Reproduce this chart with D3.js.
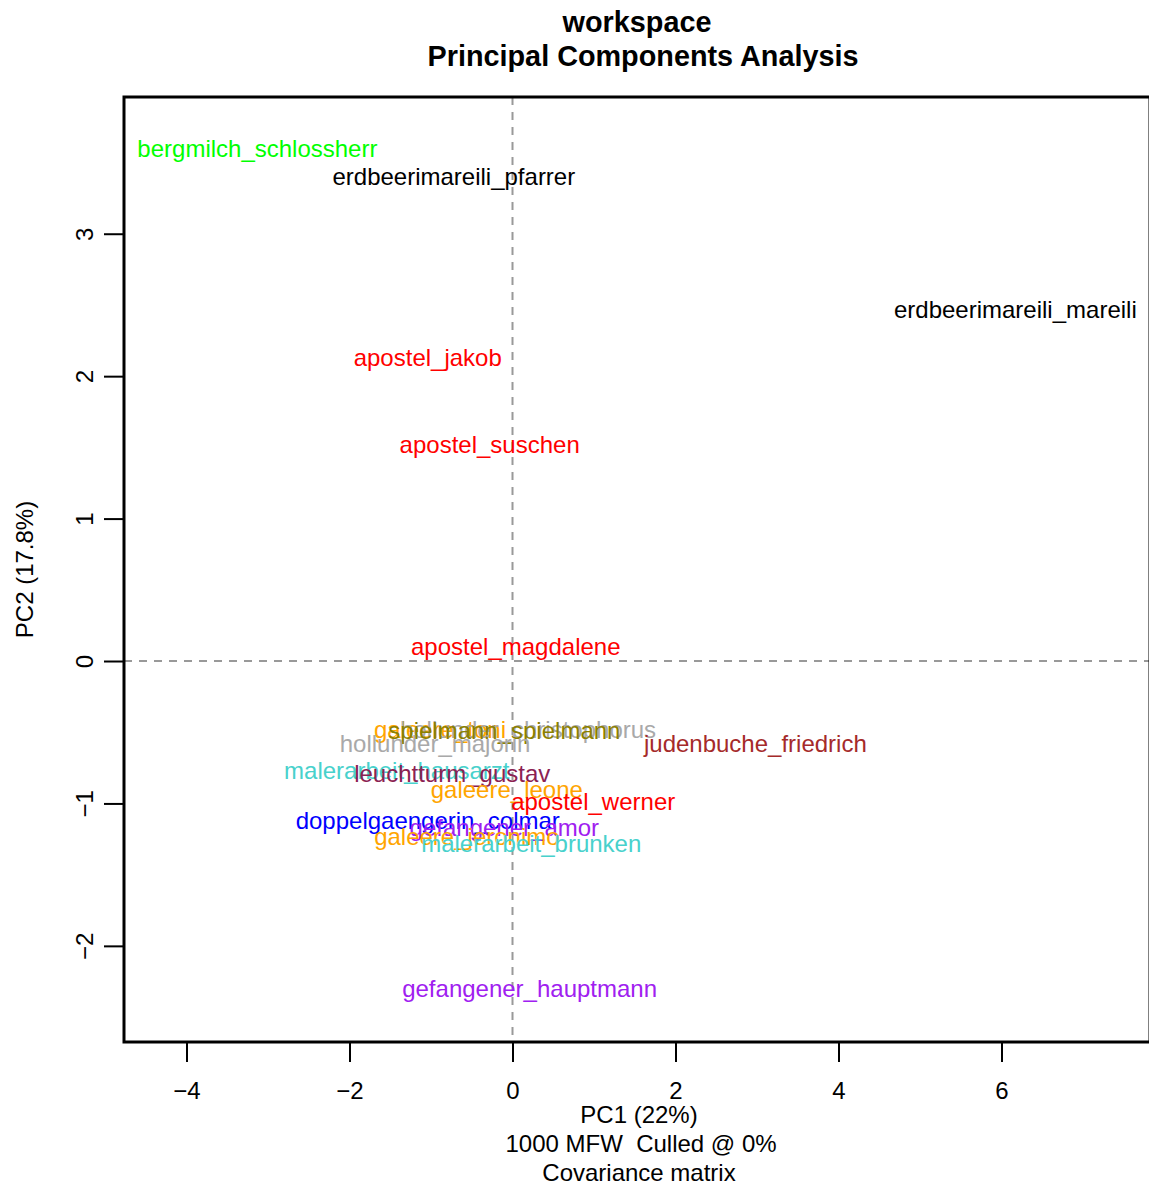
<!DOCTYPE html>
<html>
<head>
<meta charset="utf-8">
<script src="https://cdn.jsdelivr.net/npm/d3@7"></script>
<style>
  body { margin: 0; background: #fff; }
  text { font-family: "Liberation Sans", Arial, sans-serif; }
</style>
</head>
<body>
<div id="chart"></div>
<script>
// Sample labels and their scores on the first two components
const labels = [
    "bergmilch_schlossherr", "erdbeerimareili_pfarrer", "erdbeerimareili_mareili",
    "apostel_jakob", "apostel_suschen", "apostel_magdalene",
    "galeere_toni", "hollunder_christophorus", "spielmann_spielmann",
    "hollunder_majorin", "judenbuche_friedrich", "malerarbeit_hausarzt",
    "leuchtturm_gustav", "galeere_leone", "apostel_werner",
    "doppelgaengerin_colmar", "gefangener_amor", "galeere_jeronimo",
    "malerarbeit_brunken", "gefangener_hauptmann"
];
const pc1 = [-3.13, -0.72, 6.17, -1.04, -0.28, 0.04, -0.89, 0.19, -0.10, -0.95,
             2.98, -1.42, -0.74, -0.07, 0.99, -1.04, -0.10, -0.56, 0.23, 0.21];
const pc2 = [3.60, 3.40, 2.47, 2.13, 1.52, 0.10, -0.48, -0.48, -0.49, -0.58,
             -0.58, -0.77, -0.79, -0.90, -0.99, -1.12, -1.17, -1.23, -1.28, -2.30];

const xTicks = [-4, -2, 0, 2, 4, 6];
const yTicks = [-2, -1, 0, 1, 2, 3];

// one colour per text (the part before the underscore)
const groupColors = {
    bergmilch: "#00ff00", erdbeerimareili: "#000000", apostel: "#ff0000",
    galeere: "#ffa500", hollunder: "#a9a9a9", spielmann: "#8b8000",
    judenbuche: "#a52a2a", malerarbeit: "#48d1cc", leuchtturm: "#8b2252",
    doppelgaengerin: "#0000ff", gefangener: "#a020f0"
};

const points = labels.map((name, i) => ({ name, x: pc1[i], y: pc2[i], group: name.split("_")[0] }));

// Plot box
const W = 1149, H = 1185;
const box = { left: 124, right: 1150, top: 97, bottom: 1042 };
const fs = 24;

const svg = d3.select("#chart")
    .append("svg")
    .attr("width", W)
    .attr("height", H);

const x = d3.scaleLinear()
    .domain([-4.767, 7.822])
    .range([box.left, box.right]);

const y = d3.scaleLinear()
    .domain([-2.675, 3.96])
    .range([box.bottom, box.top]);

const color = d3.scaleOrdinal()
    .domain(Object.keys(groupColors))
    .range(Object.values(groupColors));

// Dashed zero lines
svg.append("line")
    .attr("x1", x(0)).attr("x2", x(0))
    .attr("y1", box.top).attr("y2", box.bottom)
    .attr("stroke", "#999").attr("stroke-width", 2)
    .attr("stroke-dasharray", "8,7");

svg.append("line")
    .attr("x1", box.left).attr("x2", box.right)
    .attr("y1", y(0)).attr("y2", y(0))
    .attr("stroke", "#999").attr("stroke-width", 2)
    .attr("stroke-dasharray", "8,7");

// Labels (text is the mark, centred on the point)
svg.append("g")
    .selectAll("text")
    .data(points)
    .enter()
    .append("text")
    .attr("x", d => x(d.x))
    .attr("y", d => y(d.y))
    .attr("dy", "0.35em")
    .attr("text-anchor", "middle")
    .attr("font-size", fs)
    .attr("fill", d => color(d.group))
    .text(d => d.name);

// X axis
const xAxis = svg.append("g")
    .attr("transform", `translate(0,${box.bottom})`)
    .call(d3.axisBottom(x).tickValues(xTicks).tickSize(20).tickPadding(20)
        .tickFormat(d => d < 0 ? "\u2212" + Math.abs(d) : d));
xAxis.select(".domain").remove();
xAxis.selectAll("line").attr("stroke-width", 2);
xAxis.selectAll("text").attr("font-size", fs).attr("font-family", "Liberation Sans, Arial, sans-serif");

// Y axis (labels parallel to the axis, as R does)
const yAxis = svg.append("g")
    .attr("transform", `translate(${box.left},0)`)
    .call(d3.axisLeft(y).tickValues(yTicks).tickSize(20)
        .tickFormat(d => d < 0 ? "\u2212" + Math.abs(d) : d));
yAxis.select(".domain").remove();
yAxis.selectAll("line").attr("stroke-width", 2);
yAxis.selectAll("text")
    .attr("font-size", fs)
    .attr("font-family", "Liberation Sans, Arial, sans-serif")
    .attr("x", null)
    .attr("text-anchor", "middle")
    .attr("transform", "translate(-39,0) rotate(-90)")
    .attr("y", 0)
    .attr("dy", "0.35em");

// Box
svg.append("rect")
    .attr("x", box.left).attr("y", box.top)
    .attr("width", box.right - box.left).attr("height", box.bottom - box.top)
    .attr("fill", "none").attr("stroke", "#000").attr("stroke-width", 3);

// Titles
const cx = (box.left + box.right) / 2;
svg.append("text")
    .attr("x", cx).attr("y", 22).attr("dy", "0.35em")
    .attr("text-anchor", "middle").attr("font-weight", "bold").attr("font-size", 28.8)
    .text("workspace");
svg.append("text")
    .attr("x", cx + 6).attr("y", 56).attr("dy", "0.35em")
    .attr("text-anchor", "middle").attr("font-weight", "bold").attr("font-size", 28.8)
    .text("Principal Components Analysis");

const subLines = ["PC1 (22%)", "1000 MFW  Culled @ 0%", "Covariance matrix"];
svg.append("g")
    .selectAll("text")
    .data(subLines)
    .enter()
    .append("text")
    .attr("x", (d, i) => cx + (i === 1 ? 4 : 2))
    .attr("y", (d, i) => 1115 + i * 29)
    .attr("dy", "0.35em")
    .attr("text-anchor", "middle")
    .attr("font-size", fs)
    .attr("xml:space", "preserve")
    .style("white-space", "pre")
    .text(d => d);

svg.append("text")
    .attr("transform", `translate(25,${(box.top + box.bottom) / 2}) rotate(-90)`)
    .attr("dy", "0.35em")
    .attr("text-anchor", "middle")
    .attr("font-size", fs)
    .text("PC2 (17.8%)");
</script>
</body>
</html>
